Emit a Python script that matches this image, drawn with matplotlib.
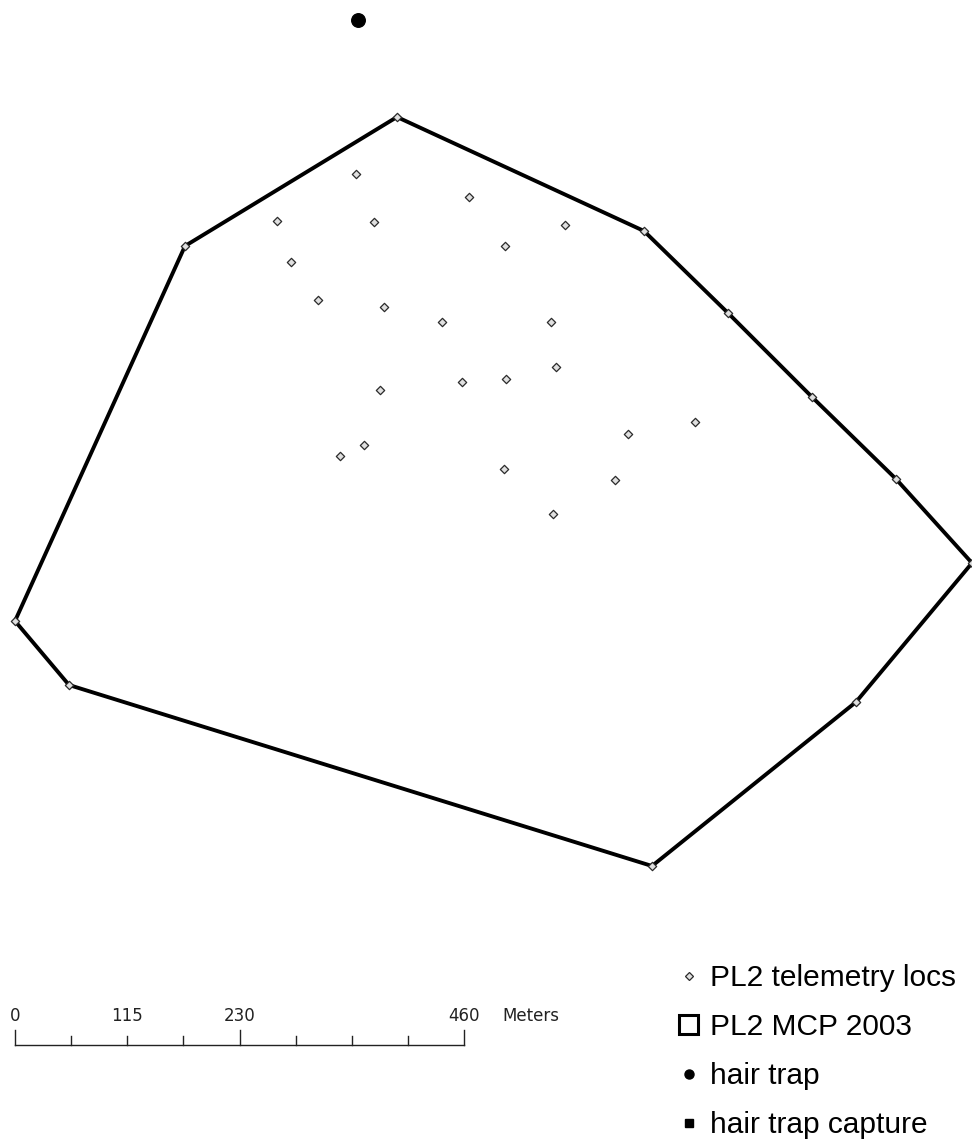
import matplotlib
matplotlib.use("Agg")
from matplotlib import pyplot as plt
from matplotlib.lines import Line2D
from matplotlib.patches import Patch
import numpy as np

# map coordinates (screen-like units, y grows downwards)
telem_x = [355.7, 468.7, 276.7, 374.0, 564.7, 505.3, 290.7, 317.7, 384.0, 441.7, 550.7,
           379.7, 461.7, 505.7, 556.0, 694.7, 628.3, 364.3, 340.0, 504.0, 615.3, 553.3]
telem_y = [174.0, 196.7, 220.7, 222.0, 225.0, 246.3, 261.7, 299.7, 306.7, 322.3, 322.3,
           390.0, 381.7, 378.7, 367.3, 422.3, 433.7, 445.0, 456.3, 468.7, 480.3, 513.7]

# MCP hull vertices (also telemetry fixes)
mcp_x = [397, 644, 728, 812, 896, 972, 856, 652, 69, 15, 185]
mcp_y = [117, 231, 313, 397, 479, 563, 702, 866, 685, 621, 246]

trap_x = [358.3]
trap_y = [20.0]

scale_labels = [0, 115, 230, 460]
scale_len_m = 460
PX_PER_M = 449 / 460.0
SCALE_X0, SCALE_Y = 15, 1045
NARROW = ["Liberation Sans Narrow", "DejaVu Sans"]

fig = plt.figure(figsize=(9.72, 11.48), dpi=100)
ax = fig.add_axes([0, 0, 1, 1])
ax.set_xlim(0, 972)
ax.set_ylim(1148, 0)
ax.axis("off")

hx = mcp_x + mcp_x[:1]
hy = mcp_y + mcp_y[:1]
ax.plot(hx, hy, color="black", lw=2.8, solid_joinstyle="miter", zorder=2)

ax.scatter(telem_x + mcp_x, telem_y + mcp_y, marker="D", s=18, facecolor="#e0e0e0",
           edgecolor="#2a2a2a", linewidths=0.9, zorder=3)
ax.scatter(trap_x, trap_y, marker="o", s=95, color="black", zorder=3)

# scale bar
ticks_m = np.arange(0, scale_len_m + 1, scale_len_m / 8)
tx = SCALE_X0 + ticks_m * PX_PER_M
ax.plot([tx[0], tx[-1]], [SCALE_Y, SCALE_Y], color="#222222", lw=1.0)
for i, x in enumerate(tx):
    top = 15 if i in (0, 4, 8) else 9
    ax.plot([x, x], [SCALE_Y, SCALE_Y - top], color="#222222", lw=1.0)
for v in scale_labels:
    ax.text(SCALE_X0 + v * PX_PER_M, 1021, str(v), ha="center", va="baseline",
            fontsize=12, family=NARROW, color="#222222")
ax.text(502, 1021, "Meters", ha="left", va="baseline", fontsize=12,
        family=NARROW, color="#222222")

handles = [
    Line2D([], [], ls="none", marker="D", markersize=4.2, markerfacecolor="#e0e0e0",
           markeredgecolor="#2a2a2a", markeredgewidth=0.9),
    Patch(facecolor="white", edgecolor="black", linewidth=2.2),
    Line2D([], [], ls="none", marker="o", markersize=6.5, color="black"),
    Line2D([], [], ls="none", marker="s", markersize=5.5, color="black"),
]
labels = ["PL2 telemetry locs", "PL2 MCP 2003", "hair trap", "hair trap capture"]
leg = ax.legend(handles, labels, loc="upper left", bbox_to_anchor=(679 / 972, 1 - 964 / 1148),
                frameon=False, prop={"family": "Liberation Sans", "size": 21.5},
                handlelength=0.65, handleheight=0.62, handletextpad=0.4,
                labelspacing=0.7, borderpad=0, borderaxespad=0)

fig.savefig("out.png", dpi=100)
